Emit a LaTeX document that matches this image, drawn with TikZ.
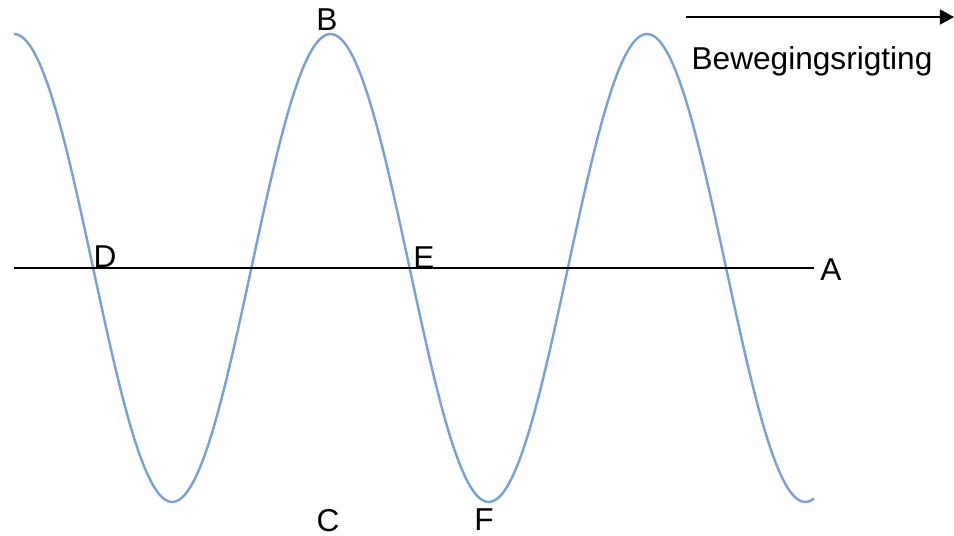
\documentclass[tikz,border=0pt]{standalone}
\usepackage{fontspec}
\setmainfont{Liberation Sans}
\usepackage{tikz}
\usetikzlibrary{arrows.meta, positioning}
\definecolor{wavecolor}{RGB}{122, 163, 212}

\tikzset{
    lbl/.style={font=\fontsize{18}{22}\selectfont, inner sep=0pt},
}

\begin{document}
\begin{tikzpicture}[x=0.02cm, y=-0.02cm]
        \useasboundingbox (0,0) rectangle (954,536);

        % Wave (cosine, peaks at B)
        \draw[line width=1.4pt, wavecolor] plot[domain=14:814, samples=240, smooth] (\x, {268-234*cos(1.1374*(\x-14))});

        % Equilibrium line
        \coordinate (axisL) at (14,268);
        \coordinate (axisR) at (814,268);
        \draw[line width=1.6pt] (axisL) -- (axisR);

        % Direction of motion
        \coordinate (dirL) at (686,17);
        \coordinate (dirR) at (954,17);
        \draw[line width=1.1pt, -{Triangle[length=8pt, width=8.5pt]}] (dirL) -- (dirR);
        \node[lbl] (dirText) at (812,61) {Bewegingsrigting};

        % Labels
        \node[lbl] (B) at (327,20) {B};
        \node[lbl] (D) at (105,257) {D};
        \node[lbl] (E) at (424,258) {E};
        \node[lbl] (A) at (831,270) {A};
        \node[lbl] (C) at (328,521) {C};
        \node[lbl] (F) at (484,520) {F};
\end{tikzpicture}
\end{document}
